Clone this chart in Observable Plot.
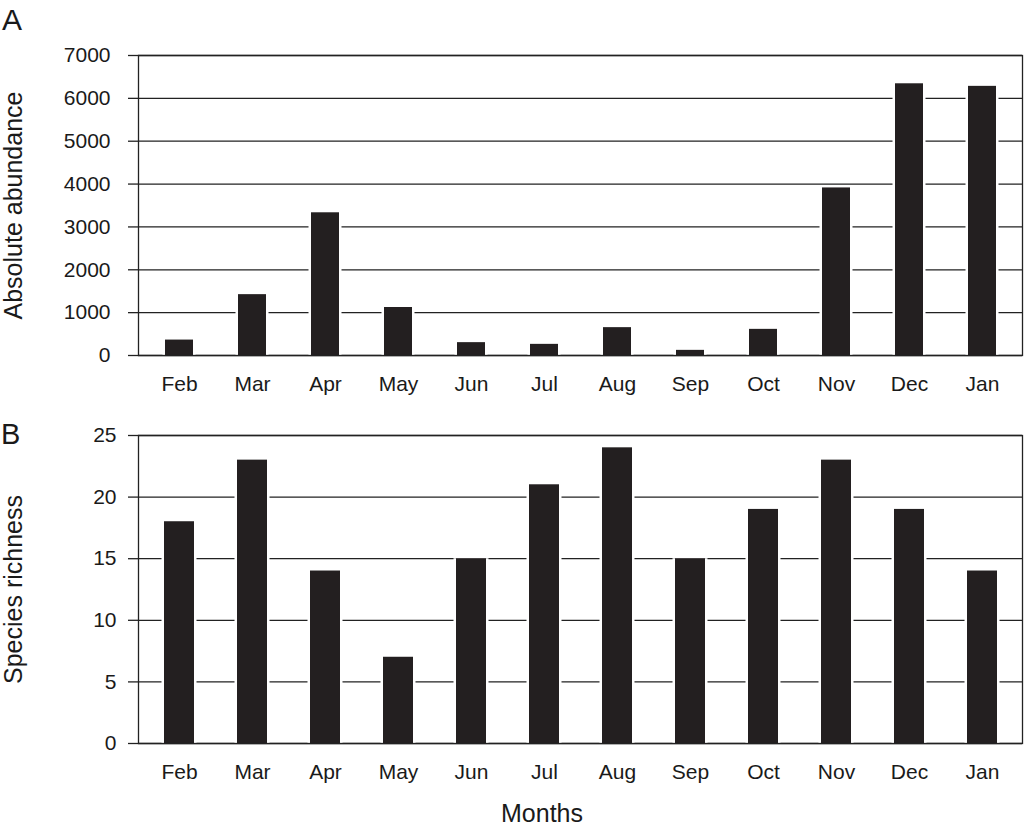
<!DOCTYPE html>
<html><head><meta charset="utf-8">
<script src="https://cdn.jsdelivr.net/npm/d3@7"></script>
<script src="https://cdn.jsdelivr.net/npm/@observablehq/plot@0.6"></script>
<style>
body{margin:0;background:#fff;}
#wrap{position:relative;width:1024px;height:836px;font-family:"Liberation Sans",Arial,Helvetica,sans-serif;color:#1a1a1a;background:#fff;}
#wrap svg{display:block;}
.lab{position:absolute;line-height:1;white-space:nowrap;}
</style></head><body><div id="wrap"></div>
<script>
const months = ["Feb","Mar","Apr","May","Jun","Jul","Aug","Sep","Oct","Nov","Dec","Jan"];
const abundance = [360, 1420, 3330, 1120, 300, 260, 650, 120, 610, 3910, 6340, 6280];
const richness = [18, 23, 14, 7, 15, 21, 24, 15, 19, 23, 19, 14];
const ticksA = [0,1000,2000,3000,4000,5000,6000,7000];
const ticksB = [0,5,10,15,20,25];
const panelLetters = ["A","B"];
const xTitle = "Months";
const yTitles = ["Absolute abundance","Species richness"];

const FONT = '"Liberation Sans",Arial,Helvetica,sans-serif';
const INK = "#231f20";
const LINE = "#222";

function panel(values, ticks, yTitle, opts) {
  const data = months.map((m, i) => ({month: m, value: values[i]}));
  return Plot.plot({
    width: 1024,
    height: opts.height,
    marginTop: opts.marginTop,
    marginBottom: opts.marginBottom,
    marginLeft: 138,
    marginRight: 2,
    style: {fontFamily: FONT, fontSize: "21px", color: "#1a1a1a", background: "white", overflow: "visible"},
    x: {domain: months, paddingInner: opts.padding, paddingOuter: opts.padding / 2, label: null},
    y: {domain: [ticks[0], ticks[ticks.length - 1]], label: null},
    marks: [
      Plot.gridY(ticks, {stroke: LINE, strokeOpacity: 1, strokeWidth: 1.3}),
      Plot.barY(data, {x: "month", y: "value", fill: "white", insetLeft: -2.5, insetRight: -2.5}),
      Plot.barY(data, {x: "month", y: "value", fill: INK}),
      Plot.axisY(ticks, {tickSize: 10, tickPadding: opts.tickPadY, fontSize: 21, stroke: LINE, strokeWidth: 1.3, tickFormat: d => String(d), label: null}),
      Plot.axisY([], {label: yTitle, labelAnchor: "center", labelArrow: "none", labelOffset: 134, fontSize: 25, tickSize: 0}),
      Plot.axisX({tickSize: 0, tickPadding: 21, fontSize: 21, label: null}),
      Plot.frame({stroke: LINE, strokeWidth: 1.3})
    ]
  });
}

const wrap = document.getElementById("wrap");
wrap.appendChild(panel(abundance, ticksA, yTitles[0], {height: 400, marginTop: 55, marginBottom: 45, padding: 0.62, tickPadY: 18}));
wrap.appendChild(panel(richness, ticksB, yTitles[1], {height: 400, marginTop: 35, marginBottom: 57, padding: 0.595, tickPadY: 12}));

function addLabel(text, left, top, size, extra) {
  const d = document.createElement("div");
  d.className = "lab";
  d.textContent = text;
  d.style.left = left + "px";
  d.style.top = top + "px";
  d.style.fontSize = size + "px";
  if (extra) Object.assign(d.style, extra);
  wrap.appendChild(d);
}
addLabel(panelLetters[0], 2, 5, 30);
addLabel(panelLetters[1], 1, 420, 29);
addLabel(xTitle, 442, 801, 25, {width: "200px", textAlign: "center"});
</script>
</body></html>
